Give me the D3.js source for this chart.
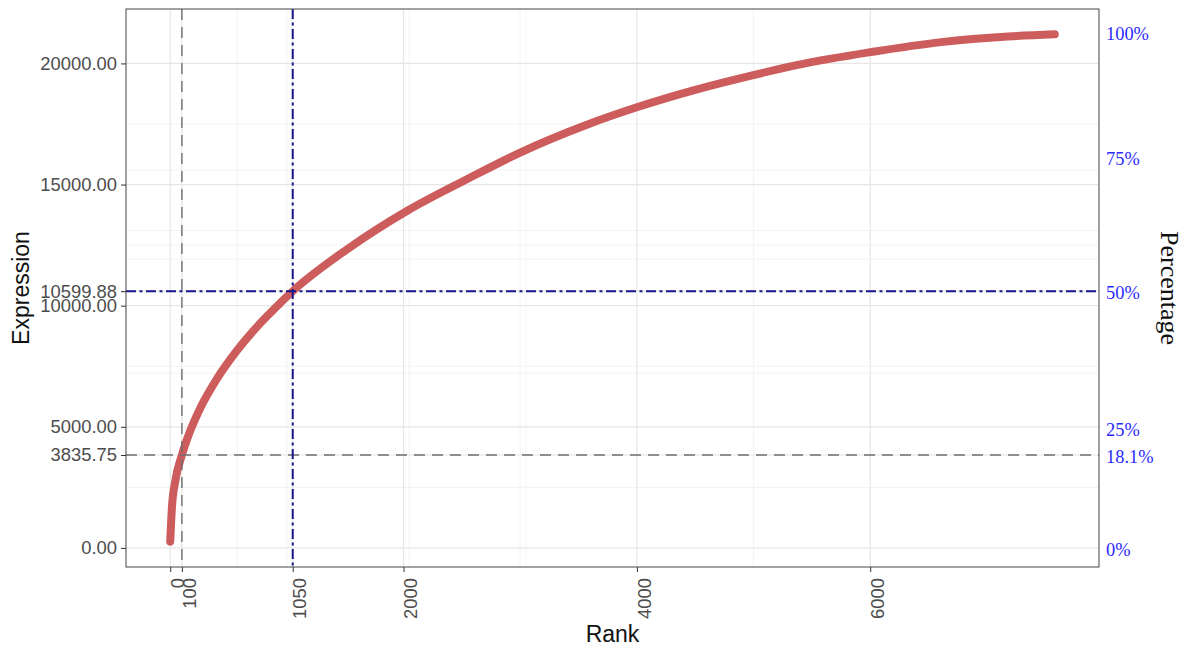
<!DOCTYPE html>
<html>
<head>
<meta charset="utf-8">
<script src="https://cdn.jsdelivr.net/npm/d3@7"></script>
<style>
  body { margin: 0; background: #fff; }
  text { font-family: "Liberation Sans", Arial, sans-serif; }
</style>
</head>
<body>
<div id="main"></div>
<script>
// cumulative expression against gene rank
const ranks   = [0, 15, 43, 100, 143, 258, 401, 572, 773, 944, 1050, 1517, 2032, 2547, 3004, 3577, 4006, 4492, 5007, 5379, 6009, 6609, 7182, 7582];
const cumExpr = [260, 1705, 2750, 3835.75, 4471, 5776, 6988, 8150, 9282, 10113, 10599.88, 12330, 13920, 15230, 16330, 17480, 18200, 18900, 19530, 19940, 20470, 20880, 21110, 21199.76];

// cut-offs (grey = top 100 genes, blue = half of total)
const cutRank = [100, 1050];
const cutExpr = [3835.75, 10599.88];

// axis breaks
const xBreaks = [0, 100, 1050, 2000, 4000, 6000];
const xMinor  = [575, 1000, 2050, 3000, 3050, 5000];
const yBreaks = [0, 3835.75, 5000, 10000, 10599.88, 15000, 20000];
const yMinor  = [2500, 7217.82, 7500, 11917.88, 12500, 13099.88, 15599.88, 17500];

// secondary (percentage) axis labels and where they sit on the expression scale
const pctLabels = ["0%", "18.1%", "25%", "50%", "75%", "100%"];
const pctAt     = [0, 3835.75, 4950, 10599.88, 16130, 21290];

const ctx = {
    w: 1188,
    h: 648,
    margin: { top: 9, right: 89, bottom: 81, left: 126 },
};

function createViz() {
    const svg = d3.select("#main").append("svg")
        .attr("width", ctx.w)
        .attr("height", ctx.h);

    const x0 = ctx.margin.left, x1 = ctx.w - ctx.margin.right;
    const y0 = ctx.margin.top,  y1 = ctx.h - ctx.margin.bottom;

    // ggplot-like 5% expansion
    const xe = d3.extent(ranks), ye = d3.extent(cumExpr);
    const xPad = (xe[1] - xe[0]) * 0.05, yPad = (ye[1] - ye[0]) * 0.05;
    const xScale = d3.scaleLinear().domain([xe[0] - xPad, xe[1] + xPad]).range([x0, x1]);
    const yScale = d3.scaleLinear().domain([ye[0] - yPad, ye[1] + yPad]).range([y1, y0]);

    const g = svg.append("g");

    // grid
    g.selectAll(".xminor").data(xMinor).enter().append("line")
        .attr("x1", d => xScale(d)).attr("x2", d => xScale(d))
        .attr("y1", y0).attr("y2", y1)
        .attr("stroke", "#f0f0f0").attr("stroke-width", 0.8);
    g.selectAll(".yminor").data(yMinor).enter().append("line")
        .attr("x1", x0).attr("x2", x1)
        .attr("y1", d => yScale(d)).attr("y2", d => yScale(d))
        .attr("stroke", "#f0f0f0").attr("stroke-width", 0.8);
    g.selectAll(".xmajor").data(xBreaks).enter().append("line")
        .attr("x1", d => xScale(d)).attr("x2", d => xScale(d))
        .attr("y1", y0).attr("y2", y1)
        .attr("stroke", "#e6e6e6").attr("stroke-width", 1.2);
    g.selectAll(".ymajor").data(yBreaks).enter().append("line")
        .attr("x1", x0).attr("x2", x1)
        .attr("y1", d => yScale(d)).attr("y2", d => yScale(d))
        .attr("stroke", "#e6e6e6").attr("stroke-width", 1.2);

    // curve
    const line = d3.line()
        .x((d, i) => xScale(ranks[i]))
        .y(d => yScale(d))
        .curve(d3.curveMonotoneX);
    g.append("path")
        .datum(cumExpr)
        .attr("d", line)
        .attr("fill", "none")
        .attr("stroke", "#cd5c5c")
        .attr("stroke-width", 8)
        .attr("stroke-linecap", "round")
        .attr("stroke-linejoin", "round");

    // cut-off lines
    const styles = [
        { color: "#6e6e6e", dash: "11,7", width: 1.4 },
        { color: "#14148c", dash: "10,3.5,3,3.5", width: 2 },
    ];
    cutRank.forEach((r, i) => {
        const s = styles[i];
        g.append("line")
            .attr("x1", xScale(r)).attr("x2", xScale(r))
            .attr("y1", y0).attr("y2", y1)
            .attr("stroke", s.color).attr("stroke-width", s.width)
            .attr("stroke-dasharray", s.dash);
        g.append("line")
            .attr("x1", x0).attr("x2", x1)
            .attr("y1", yScale(cutExpr[i])).attr("y2", yScale(cutExpr[i]))
            .attr("stroke", s.color).attr("stroke-width", s.width)
            .attr("stroke-dasharray", s.dash);
    });

    // panel border
    g.append("rect")
        .attr("x", x0).attr("y", y0)
        .attr("width", x1 - x0).attr("height", y1 - y0)
        .attr("fill", "none")
        .attr("stroke", "#555")
        .attr("stroke-width", 1.1);

    // left axis
    const yAxis = d3.axisLeft(yScale)
        .tickValues(yBreaks)
        .tickFormat(d3.format(".2f"))
        .tickSize(5)
        .tickPadding(4);
    const ya = svg.append("g")
        .attr("transform", `translate(${x0},0)`)
        .call(yAxis);
    ya.select(".domain").remove();
    ya.selectAll("line").attr("stroke", "#333");
    ya.selectAll("text")
        .style("font-size", "18.4px")
        .style("font-family", "'Liberation Sans', Arial, sans-serif")
        .attr("fill", "#4d4d4d");

    // bottom axis
    const xAxis = d3.axisBottom(xScale)
        .tickValues(xBreaks)
        .tickFormat(d3.format("d"))
        .tickSize(5);
    const xa = svg.append("g")
        .attr("transform", `translate(0,${y1})`)
        .call(xAxis);
    xa.select(".domain").remove();
    xa.selectAll("line").attr("stroke", "#333");
    xa.selectAll("text")
        .attr("transform", "rotate(-90)")
        .attr("text-anchor", "end")
        .attr("x", -11)
        .attr("y", 0)
        .attr("dy", "0.72em")
        .style("font-size", "18.4px")
        .style("font-family", "'Liberation Sans', Arial, sans-serif")
        .attr("fill", "#4d4d4d");

    // right percentage labels
    svg.selectAll(".pct").data(pctLabels).enter().append("text")
        .attr("x", x1 + 7)
        .attr("y", (d, i) => yScale(pctAt[i]))
        .attr("dy", "0.42em")
        .style("font-family", "'Liberation Serif', 'Times New Roman', serif")
        .style("font-size", "18.4px")
        .attr("fill", "#2a2aff")
        .text(d => d);

    // titles
    svg.append("text")
        .attr("x", (x0 + x1) / 2)
        .attr("y", 641.5)
        .attr("text-anchor", "middle")
        .style("font-size", "23px")
        .attr("fill", "#111")
        .text("Rank");

    svg.append("text")
        .attr("transform", `translate(28.5,${(y0 + y1) / 2}) rotate(-90)`)
        .attr("text-anchor", "middle")
        .style("font-size", "23px")
        .attr("fill", "#111")
        .text("Expression");

    svg.append("text")
        .attr("transform", `translate(1161,${(y0 + y1) / 2}) rotate(90)`)
        .attr("text-anchor", "middle")
        .style("font-family", "'Liberation Serif', 'Times New Roman', serif")
        .style("font-size", "26px")
        .attr("fill", "#111")
        .text("Percentage");
}

createViz();
</script>
</body>
</html>
